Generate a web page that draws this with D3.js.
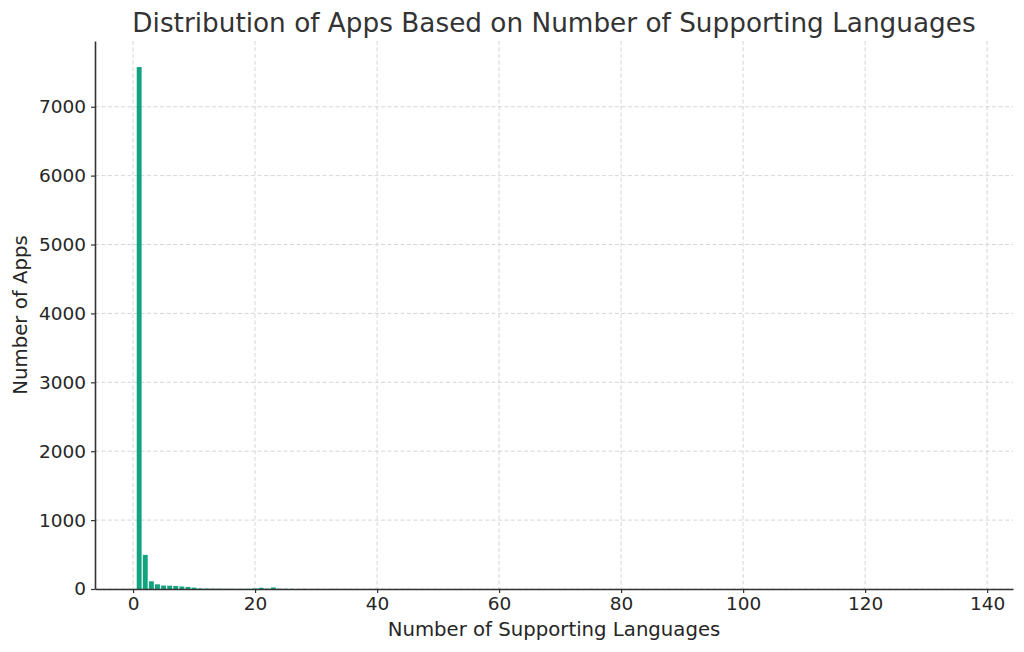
<!DOCTYPE html>
<html>
<head>
<meta charset="utf-8">
<script src="https://cdn.jsdelivr.net/npm/d3@7"></script>
<style>
  body { margin: 0; background: #fff; }
  text { font-family: "DejaVu Sans", sans-serif; }
</style>
</head>
<body>
<div id="chart"></div>
<script>
// number of supported languages -> number of apps
var languages = [1, 2, 3, 4, 5, 6, 7, 8, 9, 10,
                 11, 12, 13, 14, 15, 16, 17, 18, 19, 20,
                 21, 22, 23, 24, 25, 26, 28, 30, 33, 35,
                 40, 45, 60, 75, 100, 137];
var appCounts = [7575, 495, 112, 68, 50, 48, 44, 36, 30, 20,
                 8, 6, 5, 4, 3, 3, 2, 2, 3, 8,
                 18, 6, 22, 4, 3, 2, 2, 1, 1, 1,
                 1, 1, 1, 1, 1, 1];
var xTicks = [0, 20, 40, 60, 80, 100, 120, 140];
var yTicks = [0, 1000, 2000, 3000, 4000, 5000, 6000, 7000];

var chartTitle = "Distribution of Apps Based on Number of Supporting Languages";
var xLabel = "Number of Supporting Languages";
var yLabel = "Number of Apps";

var width = 1024, height = 652;
var plotLeft = 95, plotRight = 1013, plotTop = 41, plotBottom = 589;
var barWidth = 0.8;
var barColor = "#10a37f";

drawHistogram();

function drawHistogram() {
    var svg = d3.select("#chart").append("svg")
        .attr("width", width).attr("height", height);

    // matplotlib style 5% margins round the bars
    var xmin = d3.min(languages) - barWidth / 2,
        xmax = d3.max(languages) + barWidth / 2;
    var pad = (xmax - xmin) * 0.05;
    var x = d3.scaleLinear().domain([xmin - pad, xmax + pad]).range([plotLeft, plotRight]);
    var y = d3.scaleLinear().domain([0, d3.max(appCounts) * 1.05]).range([plotBottom, plotTop]);

    var data = languages.map(function (l, i) {
        return { lang: l, count: appCounts[i] };
    });

    // grid
    var grid = svg.append("g")
        .attr("stroke", "#cccccc")
        .attr("stroke-width", 0.8)
        .attr("stroke-dasharray", "4,2.5");
    grid.selectAll(".vgrid").data(xTicks).enter().append("line")
        .attr("x1", d => x(d)).attr("x2", d => x(d))
        .attr("y1", plotTop).attr("y2", plotBottom);
    grid.selectAll(".hgrid").data(yTicks).enter().append("line")
        .attr("x1", plotLeft).attr("x2", plotRight)
        .attr("y1", d => y(d)).attr("y2", d => y(d));

    // bars
    svg.append("g")
        .selectAll("rect")
        .data(data)
        .enter().append("rect")
        .attr("x", d => x(d.lang - barWidth / 2))
        .attr("width", d => x(d.lang + barWidth / 2) - x(d.lang - barWidth / 2))
        .attr("y", d => y(d.count))
        .attr("height", d => plotBottom - y(d.count))
        .attr("fill", barColor);

    // axes
    var xAxis = svg.append("g")
        .attr("transform", "translate(0," + plotBottom + ")")
        .call(d3.axisBottom(x).tickValues(xTicks).tickFormat(d3.format("d"))
            .tickSize(4).tickPadding(4).tickSizeOuter(0));
    var yAxis = svg.append("g")
        .attr("transform", "translate(" + plotLeft + ",0)")
        .call(d3.axisLeft(y).tickValues(yTicks).tickFormat(d3.format("d"))
            .tickSize(4).tickPadding(5).tickSizeOuter(0));

    [xAxis, yAxis].forEach(function (ax) {
        ax.select(".domain").attr("stroke", "#333").attr("stroke-width", 1.6);
        ax.selectAll(".tick line").attr("stroke", "#333").attr("stroke-width", 1.2);
        ax.selectAll(".tick text")
            .style("font-family", "DejaVu Sans")
            .style("font-size", "18.5px")
            .attr("fill", "#262626");
    });

    svg.append("text")
        .attr("x", (plotLeft + plotRight) / 2)
        .attr("y", 32)
        .attr("text-anchor", "middle")
        .style("font-size", "26.3px")
        .attr("fill", "#333")
        .text(chartTitle);

    svg.append("text")
        .attr("x", (plotLeft + plotRight) / 2)
        .attr("y", 636)
        .attr("text-anchor", "middle")
        .style("font-size", "19.7px")
        .attr("fill", "#262626")
        .text(xLabel);

    svg.append("text")
        .attr("transform", "translate(27," + ((plotTop + plotBottom) / 2) + ") rotate(-90)")
        .attr("text-anchor", "middle")
        .style("font-size", "19.7px")
        .attr("fill", "#262626")
        .text(yLabel);
}
</script>
</body>
</html>
